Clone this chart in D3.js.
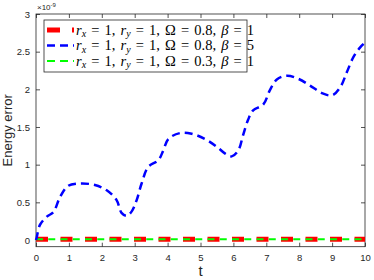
<!DOCTYPE html>
<html>
<head>
<meta charset="utf-8">
<script src="https://cdn.jsdelivr.net/npm/d3@7"></script>
<style>
  body { margin: 0; background: #fff; }
  text { font-family: "Liberation Sans", Arial, sans-serif; }
</style>
</head>
<body>
<div class="chart"></div>
<script>
// blue curve (r_x=1, r_y=1, Omega=0.8, beta=5), values in 1e-9
const blueT = [0, 0.02, 0.12, 0.33, 0.53, 0.73, 0.98, 1.34, 1.79, 2.15, 2.45, 2.6, 2.76, 2.91, 3.06, 3.21, 3.41, 3.72, 3.87, 4.02, 4.38, 4.73, 5.14, 5.49, 5.74, 5.95, 6.15, 6.3, 6.45, 6.6, 6.91, 7.11, 7.32, 7.62, 7.97, 8.33, 8.69, 9.0, 9.25, 9.45, 9.65, 9.86, 10];
const blueV = [0, 0.03, 0.2, 0.31, 0.37, 0.57, 0.72, 0.75, 0.73, 0.66, 0.53, 0.36, 0.32, 0.38, 0.53, 0.75, 0.97, 1.06, 1.19, 1.34, 1.42, 1.41, 1.34, 1.24, 1.15, 1.11, 1.19, 1.4, 1.6, 1.72, 1.8, 1.99, 2.13, 2.18, 2.14, 2.05, 1.95, 1.92, 2.03, 2.23, 2.43, 2.56, 2.62];
// red and green stay close to zero
const flatT = [0, 2, 4, 6, 8, 10];
const redV = [0.01, 0.01, 0.01, 0.01, 0.01, 0.01];
const greenV = [0.01, 0.01, 0.01, 0.01, 0.01, 0.01];

const xTicks = [0, 1, 2, 3, 4, 5, 6, 7, 8, 9, 10];
const yTicks = [0, 0.5, 1, 1.5, 2, 2.5, 3];
const legendLabels = [
  { om: "0.8", beta: "1" },
  { om: "0.8", beta: "5" },
  { om: "0.3", beta: "1" }
];

const width = 374, height = 280;
const mLeft = 36, mRight = 365, mTop = 14, mBottom = 246.7;
const axisColor = "#262626";

const svg = d3.select('.chart')
  .append('svg')
  .attr('width', width)
  .attr('height', height);

const x = d3.scaleLinear().domain([0, 10]).range([mLeft, mRight]);
const y = d3.scaleLinear().domain([-0.089, 3]).range([mBottom, mTop]);

// box
svg.append("rect")
  .attr("x", mLeft).attr("y", mTop)
  .attr("width", mRight - mLeft).attr("height", mBottom - mTop)
  .attr("fill", "none").attr("stroke", axisColor).attr("stroke-width", 0.8);

// axes with inward ticks
const xAxis = svg.append("g")
  .attr("transform", `translate(0,${mBottom})`)
  .call(d3.axisBottom(x).tickValues(xTicks).tickSize(-4).tickPadding(8).tickFormat(d3.format("d")));
const xAxisTop = svg.append("g")
  .attr("transform", `translate(0,${mTop})`)
  .call(d3.axisTop(x).tickValues(xTicks).tickSize(-4).tickFormat(""));
const yAxis = svg.append("g")
  .attr("transform", `translate(${mLeft},0)`)
  .call(d3.axisLeft(y).tickValues(yTicks).tickSize(-4).tickPadding(6).tickFormat(d => d));
const yAxisRight = svg.append("g")
  .attr("transform", `translate(${mRight},0)`)
  .call(d3.axisRight(y).tickValues(yTicks).tickSize(-4).tickFormat(""));

[xAxis, xAxisTop, yAxis, yAxisRight].forEach(g => {
  g.select(".domain").remove();
  g.selectAll("line").attr("stroke", axisColor).attr("stroke-width", 0.8);
  g.selectAll("text").attr("fill", axisColor).style("font-size", "9.5px")
    .style("font-family", "Liberation Sans, Arial, sans-serif");
});

// exponent label
const expo = svg.append("text").attr("x", 37).attr("y", 10)
  .attr("fill", axisColor).style("font-size", "8px");
expo.append("tspan").text("×10");
expo.append("tspan").attr("dy", -3).style("font-size", "6px").text("-9");

// axis labels
svg.append("text")
  .attr("transform", `translate(12,${(mTop + mBottom) / 2}) rotate(-90)`)
  .attr("text-anchor", "middle")
  .attr("fill", axisColor)
  .style("font-size", "13px")
  .text("Energy error");
svg.append("text")
  .attr("x", (mLeft + mRight) / 2).attr("y", 276)
  .attr("text-anchor", "middle")
  .attr("fill", axisColor)
  .style("font-size", "15px")
  .text("t");

const line = d3.line().x(d => x(d[0])).y(d => y(d[1])).curve(d3.curveMonotoneX);

// red
svg.append("path")
  .datum(flatT.map((t, i) => [t, redV[i]]))
  .attr("d", line)
  .attr("fill", "none").attr("stroke", "#ff0000")
  .attr("stroke-width", 5).attr("stroke-dasharray", "12,12.5");
// green
svg.append("path")
  .datum(flatT.map((t, i) => [t, greenV[i]]))
  .attr("d", line)
  .attr("fill", "none").attr("stroke", "#00ff00")
  .attr("stroke-width", 2).attr("stroke-dasharray", "7,5.25");
// blue
svg.append("path")
  .datum(blueT.map((t, i) => [t, blueV[i]]))
  .attr("d", d3.line().x(d => x(d[0])).y(d => y(d[1])).curve(d3.curveCatmullRom))
  .attr("fill", "none").attr("stroke", "#0000ff")
  .attr("stroke-width", 2.5).attr("stroke-dasharray", "8,5");

// legend
const leg = svg.append("g");
leg.append("rect")
  .attr("x", 44).attr("y", 20).attr("width", 203).attr("height", 52)
  .attr("fill", "#fff").attr("stroke", axisColor).attr("stroke-width", 0.8);

const legStyles = [
  { color: "#ff0000", w: 5, dash: "13,12" },
  { color: "#0000ff", w: 2.5, dash: "8,5" },
  { color: "#00ff00", w: 2, dash: "8,5" }
];

legendLabels.forEach((d, i) => {
  const yy = 30 + i * 15.5;
  leg.append("line")
    .attr("x1", 47).attr("x2", 74).attr("y1", yy).attr("y2", yy)
    .attr("stroke", legStyles[i].color).attr("stroke-width", legStyles[i].w)
    .attr("stroke-dasharray", legStyles[i].dash);
  const t = leg.append("text").attr("x", 76).attr("y", yy + 4.5)
    .attr("fill", "#000")
    .style("font-family", "'Liberation Serif', 'Times New Roman', serif")
    .style("font-size", "14.5px")
    .style("word-spacing", "1.5px");
  t.append("tspan").style("font-style", "italic").text("r");
  t.append("tspan").style("font-style", "italic").style("font-size", "10px").attr("dy", 2.5).text("x");
  t.append("tspan").attr("dy", -2.5).text(" = 1, ");
  t.append("tspan").style("font-style", "italic").text("r");
  t.append("tspan").style("font-style", "italic").style("font-size", "10px").attr("dy", 2.5).text("y");
  t.append("tspan").attr("dy", -2.5).text(` = 1, Ω = ${d.om}, `);
  t.append("tspan").style("font-style", "italic").text("β");
  t.append("tspan").text(` = ${d.beta}`);
});
</script>
</body>
</html>
